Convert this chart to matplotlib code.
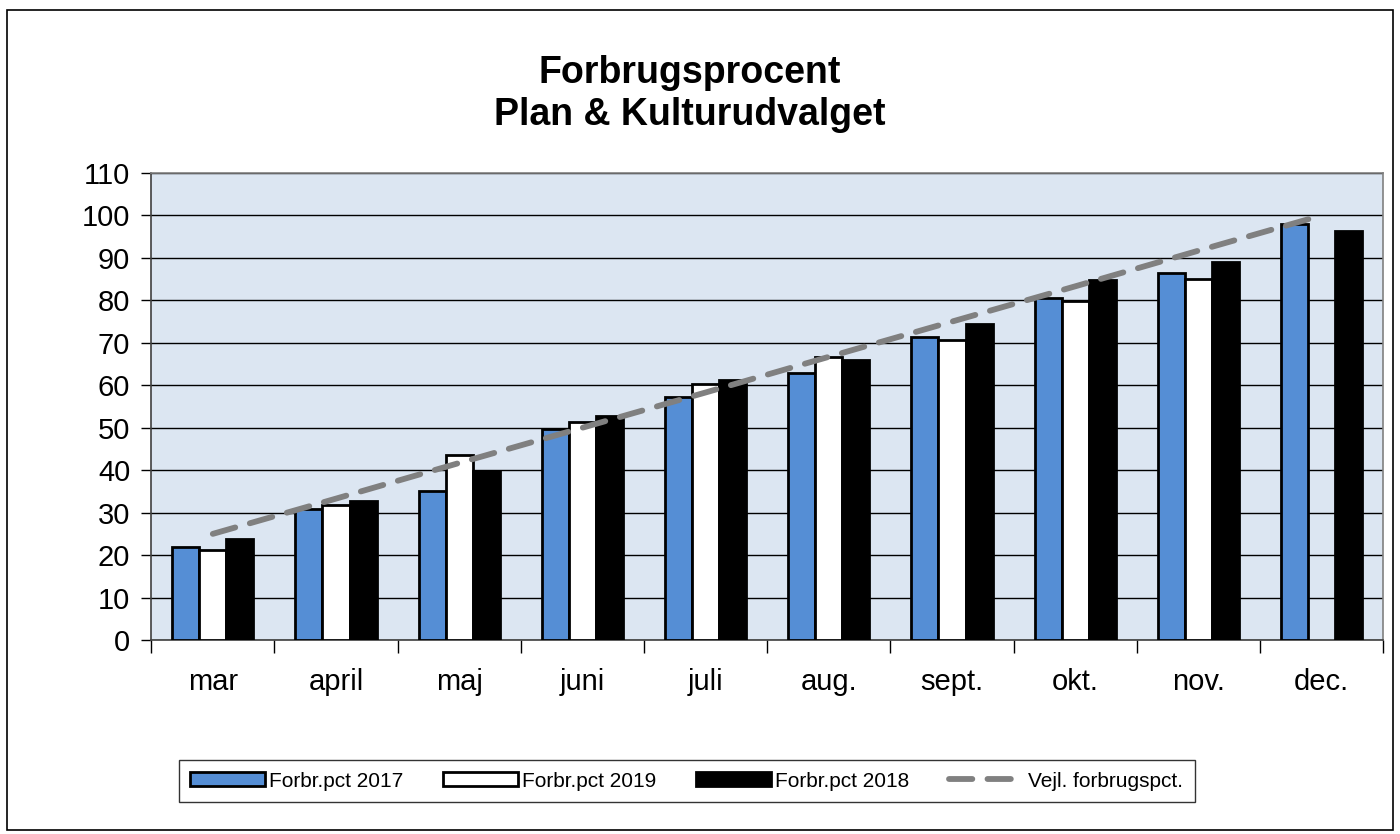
import matplotlib
matplotlib.use("Agg")
import matplotlib.pyplot as plt
import numpy as np
from matplotlib.patches import Rectangle

categories = ["mar", "april", "maj", "juni", "juli", "aug.", "sept.", "okt.", "nov.", "dec."]
pct_2017 = [22.0, 30.9, 35.1, 49.6, 57.3, 63.0, 71.3, 80.6, 86.5, 98.0]
pct_2019 = [21.2, 31.8, 43.5, 51.3, 60.4, 66.7, 70.6, 79.9, 85.0, np.nan]
pct_2018 = [23.8, 32.7, 39.8, 52.8, 61.2, 65.9, 74.4, 84.8, 89.0, 96.3]
guide = [25.0, 33.3, 41.7, 50.0, 58.3, 66.7, 75.0, 83.3, 91.7, 100.0]
yticks = list(range(0, 111, 10))

plt.rcParams['font.family'] = ['Liberation Sans', 'DejaVu Sans']

fig = plt.figure(figsize=(14, 8.34), dpi=100)
ax = fig.add_axes([0.108, 0.2326, 0.880, 0.560])
ax.set_facecolor('#DCE6F2')

x = np.arange(len(categories))
w = 0.22
b1 = ax.bar(x - w, pct_2017, w, color='#558ED5', edgecolor='black', linewidth=2.0, label='Forbr.pct 2017', zorder=3)
b2 = ax.bar(x, pct_2019, w, color='white', edgecolor='black', linewidth=2.0, label='Forbr.pct 2019', zorder=3)
b3 = ax.bar(x + w, pct_2018, w, color='black', edgecolor='black', linewidth=2.0, label='Forbr.pct 2018', zorder=3)
ln, = ax.plot(x, guide, color='#808080', linewidth=4.2, dashes=(4.0, 2.6),
              dash_capstyle='round', label='Vejl. forbrugspct.', zorder=4)

ax.set_xlim(-0.5, len(categories) - 0.5)
ax.set_ylim(0, 110)
ax.set_yticks(yticks)
ax.set_yticklabels([str(v) for v in yticks], fontsize=21)
ax.yaxis.grid(True, color='black', linewidth=1.0, zorder=1)
ax.set_axisbelow(True)

ax.set_xticks(x)
ax.set_xticklabels(categories, fontsize=21)
ax.tick_params(axis='x', length=0, pad=20)
ax.set_xticks(np.arange(-0.5, len(categories), 1.0), minor=True)
ax.tick_params(axis='x', which='minor', length=9, width=1, color='black', direction='out')
ax.tick_params(axis='y', length=7, width=1, color='black', pad=8)

for side in ['left', 'bottom']:
    ax.spines[side].set_color('#404040')
    ax.spines[side].set_linewidth(1.2)
for side in ['right', 'top']:
    ax.spines[side].set_color('#808080')
    ax.spines[side].set_linewidth(1.2)

fig.text(0.4929, 0.913, "Forbrugsprocent", ha='center', va='center', fontsize=27, fontweight='bold')
fig.text(0.4929, 0.862, "Plan & Kulturudvalget", ha='center', va='center', fontsize=27, fontweight='bold')

leg = fig.legend([b1, b2, b3, ln], ['Forbr.pct 2017', 'Forbr.pct 2019', 'Forbr.pct 2018', 'Vejl. forbrugspct.'],
                 loc='center', bbox_to_anchor=(0.4904, 0.0635), ncol=4, fontsize=15,
                 frameon=True, fancybox=False, edgecolor='black', handlelength=3.6,
                 handleheight=0.65, columnspacing=1.9, handletextpad=0.2, borderpad=0.55)
leg.get_frame().set_linewidth(1.0)

fig.patches.append(Rectangle((0.005, 0.005), 0.99, 0.983, transform=fig.transFigure,
                             fill=False, edgecolor='black', linewidth=1.2))

fig.savefig('out.png', dpi=100)
